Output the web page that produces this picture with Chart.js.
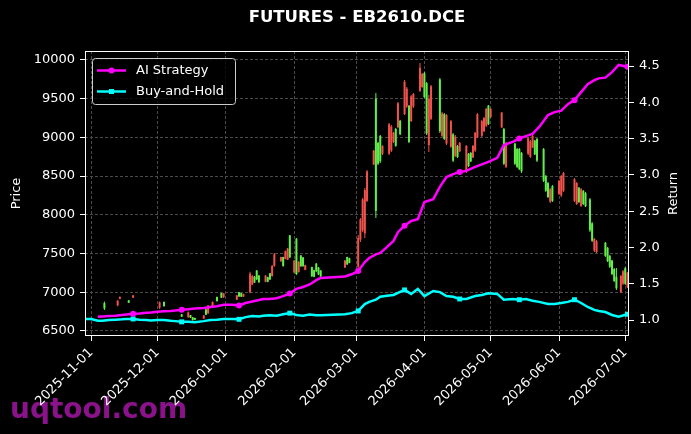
<!DOCTYPE html>
<html><head><meta charset="utf-8">
<script src="https://cdn.jsdelivr.net/npm/chart.js@4.4.1/dist/chart.umd.min.js"></script>
<style>html,body{margin:0;padding:0;background:#000;}canvas{display:block;}</style>
</head><body>
<canvas id="c" width="691" height="434"></canvas>
<script>
// ---- data (x values are days since 2025-11-01) ----
const chartTitle = 'FUTURES - EB2610.DCE';
const monthTickDays = [0, 30, 61, 92, 120, 151, 181, 212, 242];
const monthTickLabels = ['2025-11-01','2025-12-01','2026-01-01','2026-02-01','2026-03-01','2026-04-01','2026-05-01','2026-06-01','2026-07-01'];
const priceTicks = [6500, 7000, 7500, 8000, 8500, 9000, 9500, 10000];
const returnTicks = [1.0, 1.5, 2.0, 2.5, 3.0, 3.5, 4.0, 4.5];

const candleDay = [
  6,12,13,17,19,31,33,41,44,45,
  46,47,51,52,53,55,57,59,60,66,
  67,68,69,72,73,74,75,76,79,80,
  81,82,83,86,87,88,89,90,92,93,
  94,95,96,97,100,101,102,103,104,115,
  116,117,121,122,123,124,125,128,129,130,
  131,132,135,136,137,138,139,140,142,143,
  144,145,146,149,150,151,152,153,154,158,
  159,160,161,163,164,165,166,167,170,171,
  172,173,174,175,177,178,179,180,181,186,
  187,188,192,193,194,195,198,199,200,201,
  202,205,206,207,208,209,212,213,214,219,
  220,221,222,223,224,226,227,228,229,233,
  234,235,236,237,238,240,241,242,243];
const candleOpen = [
  6860,6830,6915,6895,6930,6800,6875,6715,6680,6705,
  6678,6668,6660,6780,6730,6815,6940,6990,6935,6905,
  7000,6988,6945,7000,7100,7200,7280,7215,7135,7195,
  7245,7210,7340,7400,7455,7430,7420,7735,7255,7690,
  7260,7475,7450,7290,7325,7285,7370,7320,7280,7320,
  7455,7440,7330,7680,7800,7760,8180,8650,9500,8930,
  9020,8790,8790,8830,8940,9110,9130,9215,9300,9400,
  9410,9210,9400,9600,9650,9830,9700,8900,9240,9750,
  9020,9300,8920,8880,9040,8760,8890,8820,8560,8790,
  8800,8740,8830,9000,9020,9080,9150,9410,9260,9130,
  9110,8620,8920,8850,8850,8800,8790,8750,8870,8960,
  8980,8850,8500,8410,8170,8370,8270,8250,8310,8180,
  8140,8350,8115,8310,8280,8200,7890,7540,7520,7640,
  7575,7470,7410,7300,7200,7000,7110,7310,7070];
const candleHigh = [
  6880,6900,6945,6900,6965,6880,6880,6720,6750,6707,
  6681,6670,6707,6784,6836,6879,6943,6995,6990,6965,
  7004,6991,6980,7266,7223,7210,7288,7223,7223,7200,
  7249,7353,7507,7460,7460,7540,7572,7740,7417,7701,
  7400,7482,7456,7355,7330,7290,7378,7327,7288,7417,
  7460,7445,7740,7960,8218,8347,8580,8838,9574,8941,
  9031,8900,9186,9161,9070,9122,9458,9225,9741,9651,
  9419,9548,9574,9961,9832,9845,9716,9548,9677,9768,
  9328,9316,9300,9225,9057,9031,8902,8941,8902,8799,
  8812,8902,9070,9316,9225,9264,9380,9419,9380,9328,
  9122,8941,8928,8863,8863,8812,9006,8967,9031,8967,
  8993,8864,8515,8424,8347,8386,8450,8515,8554,8476,
  8424,8360,8347,8320,8295,8218,7908,7701,7675,7650,
  7585,7482,7417,7314,7314,7223,7288,7327,7262];
const candleLow = [
  6770,6820,6910,6860,6925,6785,6815,6680,6668,6668,
  6634,6640,6655,6707,6720,6810,6879,6926,6930,6900,
  6939,6939,6940,6987,7094,7120,7159,7120,7130,7130,
  7159,7201,7330,7395,7330,7425,7417,7443,7250,7223,
  7255,7330,7327,7285,7201,7195,7262,7223,7198,7314,
  7353,7375,7314,7650,7779,7700,8166,8644,7960,8644,
  8670,8773,8773,8812,8928,8880,9122,9031,9290,9380,
  8928,9200,9380,9587,9640,9509,9031,8812,9225,9057,
  9006,8967,8902,8863,8683,8747,8734,8812,8541,8618,
  8683,8734,8812,8993,9006,9070,9135,9160,9250,9122,
  8644,8605,8644,8605,8579,8541,8773,8734,8863,8773,
  8683,8424,8295,8218,8153,8166,8256,8230,8295,8166,
  8127,8153,8101,8127,8101,7779,7650,7520,7507,7456,
  7391,7314,7223,7133,7030,6990,7094,7094,7056];
const candleClose = [
  6790,6890,6940,6865,6960,6870,6820,6685,6740,6672,
  6640,6645,6700,6710,6830,6875,6885,6930,6985,6960,
  6945,6942,6975,7240,7210,7125,7165,7130,7215,7135,
  7165,7340,7490,7455,7340,7530,7565,7450,7410,7235,
  7395,7335,7340,7350,7205,7200,7270,7230,7205,7410,
  7360,7380,7700,7940,8200,8320,8560,8830,8050,8660,
  8690,8890,9170,9140,9060,8890,9440,9040,9720,9630,
  8940,9530,9560,9900,9820,9520,9050,9500,9660,9080,
  9310,8980,9290,9210,8700,9010,8745,8930,8890,8630,
  8690,8890,9060,9300,9210,9250,9370,9170,9370,9320,
  8660,8930,8660,8620,8590,8560,8990,8950,9020,8780,
  8700,8440,8310,8230,8330,8180,8440,8500,8540,8460,
  8410,8165,8330,8140,8110,7800,7665,7690,7660,7470,
  7400,7330,7235,7145,7050,7210,7270,7110,7250];

const lineDay = [
  -3,0,3,5,8,11,14,16,19,
  22,25,27,30,33,36,38,41,
  44,47,51,54,57,60,64,67,
  70,73,76,78,81,84,87,90,
  93,96,99,102,104,115,118,121,
  124,126,129,131,134,137,139,142,
  145,148,151,155,158,161,164,167,
  170,174,177,180,184,187,191,194,
  197,200,203,207,210,213,216,219,
  222,225,228,230,233,236,239,243];
const aiStrategy = [
  null,null,1.045,1.05,1.055,1.06,1.07,1.075,1.085,
  1.09,1.1,1.105,1.115,1.12,1.125,1.13,1.14,
  1.15,1.16,1.165,1.18,1.19,1.21,1.21,1.2,
  1.235,1.255,1.275,1.29,1.29,1.3,1.33,1.365,
  1.43,1.455,1.49,1.55,1.58,1.6,1.63,1.675,
  1.8,1.855,1.905,1.925,2.005,2.09,2.21,2.3,
  2.365,2.39,2.625,2.665,2.835,2.97,3.01,3.04,
  3.055,3.11,3.145,3.18,3.235,3.41,3.455,3.5,
  3.535,3.565,3.66,3.825,3.865,3.885,3.975,4.03,
  4.14,4.25,4.305,4.33,4.34,4.415,4.515,4.49];
const buyHold = [
  1.015,1.015,0.99,0.99,1.0,1.005,1.01,1.015,1.015,
  1.005,1.0,0.995,1.0,1.0,0.99,0.985,0.975,
  0.975,0.97,0.985,1.0,1.005,1.015,1.015,1.01,
  1.04,1.055,1.05,1.06,1.065,1.06,1.08,1.095,
  1.07,1.06,1.075,1.065,1.065,1.08,1.095,1.125,
  1.22,1.25,1.28,1.32,1.335,1.345,1.375,1.415,
  1.36,1.43,1.33,1.4,1.385,1.33,1.32,1.29,
  1.29,1.33,1.345,1.37,1.36,1.28,1.29,1.28,
  1.29,1.265,1.25,1.22,1.22,1.235,1.25,1.28,
  1.235,1.18,1.14,1.125,1.11,1.07,1.045,1.08];

// ---- styling ----
const FONT = '"DejaVu Sans", sans-serif';
const UP = '#f0524c', DOWN = '#62ee4a';
const MAGENTA = '#ff00ff', CYAN = '#00ffff';
const candleColor = i => candleClose[i] >= candleOpen[i] ? UP : DOWN;
const markerRadius = r => ctx => (ctx.index > 0 && ctx.index % 8 === 0) ? r : 0;

const decor = {
  id: 'decor',
  beforeDraw(chart) {
    const c = chart.ctx;
    c.save();
    c.fillStyle = '#000';
    c.fillRect(0, 0, chart.width, chart.height);
    c.font = 'bold 28px ' + FONT;
    c.fillStyle = '#8a128a';
    c.textBaseline = 'alphabetic';
    c.textAlign = 'left';
    c.fillText('uqtool.com', 10, 418);
    c.restore();
  },
  afterDraw(chart) {
    const c = chart.ctx, a = chart.chartArea;
    c.save();
    c.strokeStyle = '#ffffff';
    c.lineWidth = 1;
    c.strokeRect(a.left + 0.5, a.top + 0.5, a.right - a.left - 1, a.bottom - a.top - 1);
    c.fillStyle = '#ffffff';
    c.textAlign = 'center';
    c.textBaseline = 'middle';
    c.font = 'bold 16.5px ' + FONT;
    c.fillText(chartTitle, (a.left + a.right) / 2, 18);
    c.font = '13px ' + FONT;
    const midY = (a.top + a.bottom) / 2;
    c.save(); c.translate(17, midY); c.rotate(-Math.PI / 2); c.fillText('Price', 0, 0); c.restore();
    c.save(); c.translate(674, midY); c.rotate(-Math.PI / 2); c.fillText('Return', 0, 0); c.restore();
    // legend
    const lx = 92, ly = 58, lw = 143, lh = 46;
    c.beginPath();
    c.roundRect(lx + 0.5, ly + 0.5, lw, lh, 3);
    c.fillStyle = 'rgba(0,0,0,0.8)';
    c.fill();
    c.strokeStyle = '#cccccc';
    c.stroke();
    const items = [
      {label: 'AI Strategy', color: MAGENTA, y: 70.5, shape: 'circle'},
      {label: 'Buy-and-Hold', color: CYAN, y: 91.5, shape: 'square'}
    ];
    items.forEach(it => {
      c.strokeStyle = it.color; c.lineWidth = 2.5;
      c.beginPath(); c.moveTo(97, it.y); c.lineTo(126, it.y); c.stroke();
      c.fillStyle = it.color;
      if (it.shape === 'circle') { c.beginPath(); c.arc(111.5, it.y, 3, 0, Math.PI * 2); c.fill(); }
      else { c.fillRect(109, it.y - 2.5, 5, 5); }
      c.fillStyle = '#ffffff';
      c.textAlign = 'left';
      c.textBaseline = 'middle';
      c.font = '13px ' + FONT;
      c.fillText(it.label, 136, it.y + 0.5);
    });
    c.restore();
  }
};

const gridColor = '#4a4a4a';
new Chart(document.getElementById('c'), {
  type: 'line',
  data: {
    datasets: [
      {
        type: 'line', label: 'AI Strategy', yAxisID: 'y1', order: 0,
        data: lineDay.map((d, i) => ({x: d, y: aiStrategy[i]})),
        borderColor: MAGENTA, backgroundColor: MAGENTA, borderWidth: 2.5,
        pointRadius: markerRadius(3), pointStyle: 'circle', pointBorderWidth: 0,
        tension: 0, fill: false
      },
      {
        type: 'line', label: 'Buy-and-Hold', yAxisID: 'y1', order: 0,
        data: lineDay.map((d, i) => ({x: d, y: buyHold[i]})),
        borderColor: CYAN, backgroundColor: CYAN, borderWidth: 2.5,
        pointRadius: markerRadius(3.5), pointStyle: 'rect', pointBorderWidth: 0,
        tension: 0, fill: false
      },
      {
        type: 'bar', label: 'wick', yAxisID: 'y', order: 2, grouped: false,
        data: candleDay.map((d, i) => ({x: d, y: [candleLow[i], candleHigh[i]]})),
        backgroundColor: ctx => candleColor(ctx.dataIndex),
        maxBarThickness: 1, barPercentage: 1, categoryPercentage: 1, borderWidth: 0, inflateAmount: 0
      },
      {
        type: 'bar', label: 'body', yAxisID: 'y', order: 1, grouped: false,
        data: candleDay.map((d, i) => ({x: d, y: [candleOpen[i], candleClose[i]]})),
        backgroundColor: ctx => candleColor(ctx.dataIndex),
        maxBarThickness: 2, barPercentage: 1, categoryPercentage: 1, borderWidth: 0, minBarLength: 1, inflateAmount: 0
      }
    ]
  },
  options: {
    responsive: false,
    devicePixelRatio: 1,
    animation: false,
    events: [],
    layout: {padding: {top: 51, left: 0, right: 0, bottom: 0}},
    plugins: {legend: {display: false}, title: {display: false}, tooltip: {enabled: false}},
    scales: {
      x: {
        type: 'linear', min: -2.8, max: 243.7, offset: false,
        afterBuildTicks: s => { s.ticks = monthTickDays.map(v => ({value: v})); },
        afterFit: s => { s.height = 98; },
        ticks: {
          autoSkip: false, maxRotation: 45, minRotation: 45, padding: 4,
          color: '#ffffff', font: {family: FONT, size: 13},
          callback: v => monthTickLabels[monthTickDays.indexOf(v)]
        },
        grid: {color: gridColor, lineWidth: 1, offset: false, drawTicks: true, tickLength: 5, tickColor: '#ffffff', tickWidth: 1, tickBorderDash: []},
        border: {display: false, dash: [3, 2]}
      },
      y: {
        type: 'linear', position: 'left', min: 6435, max: 10116,
        afterBuildTicks: s => { s.ticks = priceTicks.map(v => ({value: v})); },
        afterFit: s => { s.width = 85; },
        ticks: {color: '#ffffff', font: {family: FONT, size: 13}, padding: 5, callback: v => String(v)},
        grid: {color: gridColor, lineWidth: 1, drawTicks: true, tickLength: 5, tickColor: '#ffffff', tickWidth: 1, tickBorderDash: []},
        border: {display: false, dash: [3, 2]}
      },
      y1: {
        type: 'linear', position: 'right', min: 0.78, max: 4.707,
        afterBuildTicks: s => { s.ticks = returnTicks.map(v => ({value: v})); },
        afterFit: s => { s.width = 62; },
        ticks: {color: '#ffffff', font: {family: FONT, size: 13}, padding: 5, callback: v => v.toFixed(1)},
        grid: {drawOnChartArea: false, drawTicks: true, tickLength: 5, tickColor: '#ffffff', tickWidth: 1},
        border: {display: false}
      }
    }
  },
  plugins: [decor]
});
</script>
</body></html>
